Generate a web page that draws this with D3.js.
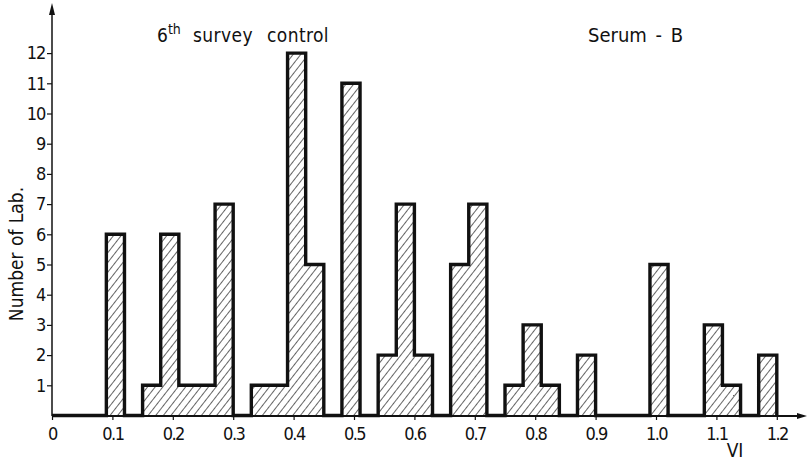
<!doctype html>
<html>
<head>
<meta charset="utf-8">
<style>
  body { margin: 0; background: #fff; }
  svg text { font-family: "Liberation Sans Narrow", "DejaVu Sans Condensed", sans-serif; fill: #111; }
</style>
</head>
<body>
<script src="https://d3js.org/d3.v7.min.js"></script>
<script>

  // bins of width 0.03, starting at VI = 0.09
  var binStart = 0.09;
  var binWidth = 0.03;
  var counts = [6,0,1,6,1,1,7,0,1,1,12,5,0,11,0,2,7,2,0,5,7,0,1,3,1,0,2,0,0,0,5,0,0,3,1,0,2];

  var xTicks = [0,0.1,0.2,0.3,0.4,0.5,0.6,0.7,0.8,0.9,1.0,1.1,1.2];
  var xTickLabels = ["0","0.1","0.2","0.3","0.4","0.5","0.6","0.7","0.8","0.9","1.0","1.1","1.2"];
  var yTicks = [1,2,3,4,5,6,7,8,9,10,11,12];

  var width = 807, height = 460;

  var x = d3.scaleLinear().domain([0, 1.2]).range([52, 776.8]);
  var y = d3.scaleLinear().domain([0, 12]).range([415.5, 53.1]);

  var bins = counts.map(function(c, i){
    var x0 = +(binStart + i*binWidth).toFixed(2);
    return { x0: x0, x1: +(x0 + binWidth).toFixed(2), n: c };
  });

  var svg = d3.select("body").append("svg")
      .attr("width", width).attr("height", height);

  // hatch pattern
  var defs = svg.append("defs");
  defs.append("pattern")
      .attr("id", "hatch")
      .attr("patternUnits", "userSpaceOnUse")
      .attr("width", 6).attr("height", 6)
      .attr("patternTransform", "rotate(38)")
    .append("line")
      .attr("x1", 0).attr("y1", 0).attr("x2", 0).attr("y2", 6)
      .attr("stroke", "#111").attr("stroke-width", 1.3);

  // hatched bars
  svg.append("g").selectAll("rect")
    .data(bins.filter(function(d){ return d.n > 0; }))
    .enter().append("rect")
      .attr("x", function(d){ return x(d.x0); })
      .attr("y", function(d){ return y(d.n); })
      .attr("width", function(d){ return x(d.x1) - x(d.x0); })
      .attr("height", function(d){ return y(0) - y(d.n); })
      .attr("fill", "url(#hatch)");

  // axes lines with arrows
  svg.append("line")
      .attr("x1", x(0)).attr("y1", y(0)+0.5).attr("x2", 802).attr("y2", y(0)+0.5)
      .attr("stroke", "#111").attr("stroke-width", 1.8);
  svg.append("path")
      .attr("d", "M807," + (y(0)+0.5) + "L797," + (y(0)-2.5) + "L797," + (y(0)+3.5) + "Z")
      .attr("fill", "#111");
  svg.append("line")
      .attr("x1", x(0)).attr("y1", y(0)+0.5).attr("x2", x(0)).attr("y2", 12)
      .attr("stroke", "#111").attr("stroke-width", 1.5);
  svg.append("path")
      .attr("d", "M" + x(0) + ",3L" + (x(0)-3) + ",15L" + (x(0)+3) + ",15Z")
      .attr("fill", "#111");

  // histogram outline
  var pts = [{ x: 0, n: 0 }];
  bins.forEach(function(d){ pts.push({ x: d.x0, n: d.n }); });
  pts.push({ x: bins[bins.length-1].x1, n: 0 });

  var step = d3.line()
      .x(function(d){ return x(d.x); })
      .y(function(d){ return y(d.n); })
      .curve(d3.curveStepAfter);

  svg.append("path")
      .attr("d", step(pts))
      .attr("fill", "none")
      .attr("stroke", "#111")
      .attr("stroke-width", 3.4)
      .attr("stroke-linejoin", "miter");

  // x axis ticks and labels
  var gx = svg.append("g")
      .attr("transform", "translate(0," + (y(0)+0.5) + ")")
      .call(d3.axisBottom(x)
        .tickValues(xTicks)
        .tickFormat(function(d, i){ return xTickLabels[i]; })
        .tickSize(4).tickSizeOuter(0).tickPadding(7));
  gx.select(".domain").remove();
  gx.selectAll("line").attr("stroke", "#111").attr("stroke-width", 1.2);
  gx.selectAll("text").attr("font-size", 18).attr("letter-spacing", -1.5).attr("fill", "#111");

  // y axis ticks and labels
  var gy = svg.append("g")
      .attr("transform", "translate(" + x(0) + ",0)")
      .call(d3.axisLeft(y)
        .tickValues(yTicks)
        .tickFormat(d3.format("d"))
        .tickSize(5).tickSizeOuter(0).tickPadding(2));
  gy.select(".domain").remove();
  gy.selectAll("line").attr("stroke", "#111").attr("stroke-width", 1.2);
  gy.selectAll("text").attr("font-size", 18).attr("letter-spacing", -1.2).attr("fill", "#111");

  // titles
  var t = svg.append("text").attr("y", 42).attr("font-size", 19);
  t.append("tspan").attr("x", 157).text("6");
  t.append("tspan").attr("font-size", 14).attr("dy", -8).text("th");
  t.append("tspan").attr("x", 193).attr("dy", 8).attr("letter-spacing", 0.4).text("survey");
  t.append("tspan").attr("x", 267).attr("letter-spacing", 0.4).text("control");

  svg.append("text").attr("x", 588).attr("y", 42).attr("font-size", 20)
      .attr("word-spacing", 3).text("Serum - B");

  svg.append("text").attr("x", 735).attr("y", 457).attr("font-size", 19)
      .attr("text-anchor", "middle").text("VI");

  svg.append("text")
      .attr("transform", "translate(23,254) rotate(-90)")
      .attr("text-anchor", "middle")
      .attr("font-size", 19)
      .attr("word-spacing", 1)
      .text("Number of Lab.");

</script>
</body>
</html>
